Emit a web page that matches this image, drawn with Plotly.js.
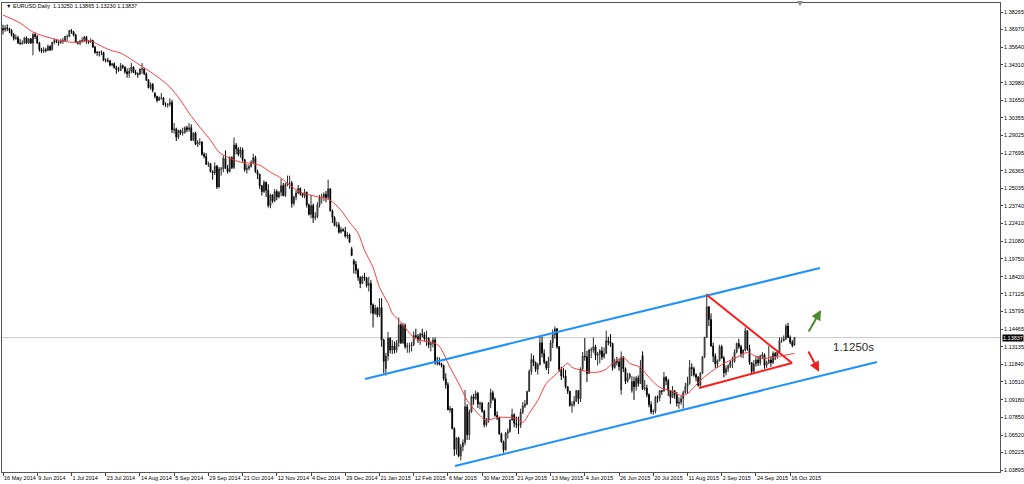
<!DOCTYPE html>
<html>
<head>
<meta charset="utf-8">
<script src="https://cdn.plot.ly/plotly-3.0.1.min.js"></script>
<style>html,body{margin:0;padding:0;background:#fff;}#chart{width:1024px;height:484px;}</style>
</head>
<body>
<div id="chart"></div>
<script>
// ---- EURUSD Daily, 16 May 2014 .. 20 Oct 2015 (one value per trading day) ----
const openP = [
1.3705,
1.3695,1.3710,1.3705,1.3690,1.3660,
1.3630,1.3635,1.3595,1.3590,1.3595,
1.3635,1.3595,1.3627,1.3595,1.3660,
1.3645,1.3595,1.3545,1.3535,1.3545,
1.3540,1.3570,1.3545,1.3600,1.3615,
1.3605,1.3600,1.3610,1.3615,1.3645,
1.3645,1.3690,1.3680,1.3655,1.3600,
1.3595,1.3610,1.3615,1.3640,1.3610,
1.3605,1.3615,1.3565,1.3525,1.3525,
1.3525,1.3525,1.3465,1.3465,1.3460,
1.3430,1.3440,1.3410,1.3395,1.3390,
1.3425,1.3415,1.3380,1.3365,1.3385,
1.3415,1.3375,1.3365,1.3360,1.3400,
1.3400,1.3365,1.3320,1.3260,1.3285,
1.3220,1.3195,1.3165,1.3185,1.3185,
1.3130,1.3130,1.3135,1.3150,1.2945,
1.2950,1.2890,1.2940,1.2920,1.2925,
1.2960,1.2945,1.2960,1.2865,1.2920,
1.2835,1.2850,1.2850,1.2760,1.2745,
1.2685,1.2690,1.2630,1.2620,1.2670,
1.2515,1.2650,1.2650,1.2730,1.2655,
1.2630,1.2735,1.2660,1.2830,1.2800,
1.2760,1.2795,1.2720,1.2645,1.2655,
1.2670,1.2700,1.2735,1.2630,1.2610,
1.2525,1.2480,1.2550,1.2490,1.2375,
1.2455,1.2410,1.2480,1.2440,1.2475,
1.2525,1.2450,1.2535,1.2545,1.2545,
1.2390,1.2440,1.2470,1.2505,1.2465,
1.2450,1.2475,1.2380,1.2310,1.2375,
1.2285,1.2290,1.2380,1.2440,1.2440,
1.2460,1.2435,1.2500,1.2335,1.2285,
1.2225,1.2230,1.2175,1.2195,
1.2185,1.2145,1.2155,1.2050,
1.1960,1.1935,1.1890,1.1835,1.1790,
1.1840,1.1830,1.1775,1.1790,1.1630,
1.1565,1.1605,1.1555,1.1610,1.1365,
1.1150,1.1245,1.1380,1.1290,1.1320,
1.1290,1.1345,1.1480,1.1345,1.1475,
1.1315,1.1320,1.1320,1.1330,1.1400,
1.1390,1.1365,1.1410,1.1405,1.1375,
1.1380,1.1330,1.1340,1.1365,1.1195,
1.1195,1.1185,1.1175,1.1075,1.1030,
1.0840,1.0850,1.0700,1.0545,1.0630,
1.0495,1.0565,1.0595,1.0865,1.0655,
1.0825,1.0940,1.0925,1.0965,1.0885,
1.0890,1.0830,1.0730,1.0765,1.0890,
1.0970,1.0920,1.0800,1.0780,1.0660,
1.0600,1.0540,1.0665,1.0680,1.0765,
1.0805,1.0740,1.0730,1.0725,1.0825,
1.0870,1.0885,1.0980,1.1130,1.1220,
1.1195,1.1145,1.1180,1.1345,1.1265,
1.1200,1.1155,1.1210,1.1345,1.1405,
1.1450,1.1315,1.1145,1.1095,1.1095,
1.1015,1.0980,1.0875,1.0880,1.0905,
1.0985,1.0925,1.1150,1.1245,1.1240,
1.1115,1.1290,1.1290,1.1315,1.1250,
1.1260,1.1285,1.1240,1.1265,1.1360,
1.1350,1.1340,1.1160,1.1205,1.1200,
1.0990,1.1235,1.1150,1.1055,1.1085,
1.0985,1.1055,1.1015,1.1080,1.1040,
1.1250,1.1000,1.1005,1.0955,1.0880,
1.0825,1.0830,1.0935,1.0930,1.0985,
1.0985,1.1085,1.1060,1.0985,1.0935,
1.0985,1.0955,1.0890,1.0900,1.0925,
1.0970,1.1015,1.1040,1.1160,1.1150,
1.1105,1.1085,1.1025,1.1115,1.1240,
1.1385,1.1615,1.1520,1.1320,1.1245,
1.1185,1.1210,1.1315,1.1230,1.1120,
1.1150,1.1170,1.1200,1.1205,1.1275,
1.1340,1.1315,1.1265,1.1290,1.1435,
1.1300,1.1195,1.1130,1.1185,1.1215,
1.1195,1.1245,1.1255,1.1175,1.1195,
1.1215,1.1195,1.1265,1.1245,1.1275,
1.1360,1.1360,1.1375,1.1470,1.1385,
1.1350,1.1325
];
const highP = [
1.3733,
1.3730,1.3735,1.3710,1.3700,1.3670,
1.3660,1.3650,1.3625,1.3615,1.3640,
1.3645,1.3630,1.3635,1.3670,1.3675,
1.3655,1.3605,1.3560,1.3565,1.3560,
1.3585,1.3580,1.3605,1.3630,1.3625,
1.3615,1.3625,1.3635,1.3650,1.3660,
1.3695,1.3700,1.3685,1.3665,1.3610,
1.3620,1.3640,1.3650,1.3650,1.3615,
1.3630,1.3620,1.3575,1.3535,1.3535,
1.3540,1.3530,1.3480,1.3485,1.3470,
1.3445,1.3450,1.3425,1.3415,1.3445,
1.3435,1.3420,1.3405,1.3410,1.3445,
1.3420,1.3395,1.3375,1.3405,1.3445,
1.3410,1.3375,1.3325,1.3300,1.3295,
1.3225,1.3200,1.3195,1.3220,1.3190,
1.3150,1.3145,1.3180,1.3170,1.2995,
1.2960,1.2945,1.2945,1.2960,1.2970,
1.2975,1.2995,1.2985,1.2925,1.2930,
1.2865,1.2880,1.2860,1.2775,1.2770,
1.2705,1.2695,1.2640,1.2700,1.2680,
1.2665,1.2665,1.2750,1.2790,1.2680,
1.2745,1.2745,1.2886,1.2845,1.2815,
1.2815,1.2810,1.2725,1.2685,1.2685,
1.2715,1.2765,1.2750,1.2645,1.2615,
1.2530,1.2565,1.2555,1.2535,1.2465,
1.2460,1.2500,1.2495,1.2485,1.2575,
1.2545,1.2545,1.2600,1.2600,1.2560,
1.2450,1.2490,1.2530,1.2510,1.2470,
1.2500,1.2480,1.2390,1.2455,1.2390,
1.2325,1.2400,1.2455,1.2465,1.2475,
1.2485,1.2570,1.2505,1.2345,1.2295,
1.2255,1.2250,1.2215,1.2205,
1.2215,1.2175,1.2165,1.2065,
1.1975,1.1960,1.1905,1.1845,1.1850,
1.1870,1.1840,1.1840,1.1815,1.1640,
1.1630,1.1615,1.1680,1.1680,1.1375,
1.1270,1.1425,1.1385,1.1365,1.1355,
1.1365,1.1534,1.1490,1.1495,1.1490,
1.1345,1.1345,1.1350,1.1430,1.1450,
1.1410,1.1420,1.1450,1.1425,1.1435,
1.1385,1.1355,1.1385,1.1385,1.1240,
1.1235,1.1195,1.1180,1.1115,1.1050,
1.0870,1.0855,1.0710,1.0635,1.0640,
1.0585,1.0620,1.0990,1.0885,1.0845,
1.0950,1.0960,1.0985,1.0975,1.0905,
1.0900,1.0840,1.0780,1.0900,1.1000,
1.0985,1.0935,1.0830,1.0790,1.0670,
1.0610,1.0675,1.0700,1.0770,1.0850,
1.0815,1.0790,1.0790,1.0850,1.0900,
1.0915,1.0985,1.1145,1.1265,1.1250,
1.1205,1.1195,1.1390,1.1390,1.1295,
1.1210,1.1240,1.1365,1.1445,1.1467,
1.1455,1.1320,1.1165,1.1155,1.1140,
1.1020,1.0985,1.0905,1.0945,1.0990,
1.0990,1.1160,1.1275,1.1380,1.1285,
1.1300,1.1310,1.1385,1.1330,1.1275,
1.1295,1.1315,1.1310,1.1435,1.1390,
1.1410,1.1345,1.1225,1.1240,1.1225,
1.1280,1.1245,1.1160,1.1120,1.1120,
1.1095,1.1090,1.1095,1.1100,1.1215,
1.1280,1.1065,1.1030,1.0965,1.0905,
1.0845,1.0945,1.0950,1.0990,1.0990,
1.1125,1.1095,1.1075,1.0990,1.1020,
1.0990,1.0975,1.0935,1.0945,1.0985,
1.1045,1.1090,1.1215,1.1190,1.1165,
1.1115,1.1095,1.1125,1.1245,1.1390,
1.1714,1.1620,1.1565,1.1345,1.1265,
1.1220,1.1330,1.1330,1.1245,1.1175,
1.1185,1.1215,1.1240,1.1295,1.1345,
1.1375,1.1330,1.1295,1.1460,1.1440,
1.1330,1.1200,1.1215,1.1245,1.1245,
1.1255,1.1275,1.1265,1.1210,1.1320,
1.1245,1.1280,1.1275,1.1290,1.1385,
1.1385,1.1400,1.1485,1.1495,1.1400,
1.1365,1.13865
];
const lowP = [
1.3660,
1.3680,1.3685,1.3670,1.3645,1.3615,
1.3620,1.3590,1.3585,1.3585,1.3590,
1.3590,1.3590,1.3590,1.3503,1.3625,
1.3590,1.3530,1.3520,1.3520,1.3525,
1.3535,1.3535,1.3540,1.3585,1.3595,
1.3575,1.3590,1.3590,1.3605,1.3610,
1.3640,1.3665,1.3645,1.3595,1.3585,
1.3580,1.3600,1.3605,1.3590,1.3590,
1.3595,1.3560,1.3515,1.3500,1.3495,
1.3505,1.3460,1.3450,1.3450,1.3420,
1.3420,1.3405,1.3365,1.3380,1.3385,
1.3400,1.3365,1.3335,1.3335,1.3370,
1.3370,1.3355,1.3335,1.3355,1.3365,
1.3355,1.3310,1.3255,1.3245,1.3225,
1.3180,1.3150,1.3160,1.3170,1.3130,
1.3115,1.3110,1.3120,1.2920,1.2915,
1.2860,1.2875,1.2905,1.2900,1.2915,
1.2925,1.2930,1.2860,1.2860,1.2830,
1.2815,1.2830,1.2750,1.2730,1.2680,
1.2665,1.2625,1.2570,1.2605,1.2500,
1.2505,1.2600,1.2625,1.2650,1.2615,
1.2625,1.2650,1.2650,1.2760,1.2745,
1.2735,1.2705,1.2630,1.2615,1.2640,
1.2660,1.2690,1.2620,1.2575,1.2500,
1.2450,1.2470,1.2440,1.2360,1.2355,
1.2395,1.2400,1.2415,1.2430,1.2445,
1.2445,1.2440,1.2520,1.2500,1.2360,
1.2375,1.2415,1.2460,1.2450,1.2435,
1.2430,1.2360,1.2300,1.2280,1.2245,
1.2265,1.2280,1.2360,1.2390,1.2410,
1.2400,1.2425,1.2330,1.2245,1.2220,
1.2210,1.2165,1.2165,1.2180,
1.2135,1.2125,1.2095,1.1995,
1.1865,1.1860,1.1810,1.1755,1.1785,
1.1810,1.1760,1.1730,1.1565,1.1460,
1.1555,1.1535,1.1540,1.1315,1.1115,
1.1098,1.1210,1.1265,1.1260,1.1265,
1.1270,1.1315,1.1335,1.1335,1.1300,
1.1270,1.1270,1.1280,1.1320,1.1375,
1.1345,1.1330,1.1385,1.1355,1.1320,
1.1305,1.1280,1.1310,1.1180,1.1175,
1.1175,1.1160,1.1060,1.1000,1.0840,
1.0820,1.0695,1.0495,1.0505,1.0485,
1.0462,1.0530,1.0575,1.0615,1.0615,
1.0820,1.0880,1.0915,1.0855,1.0845,
1.0820,1.0710,1.0715,1.0745,1.0855,
1.0910,1.0790,1.0765,1.0655,1.0595,
1.0520,1.0535,1.0625,1.0670,1.0760,
1.0710,1.0705,1.0660,1.0705,1.0810,
1.0855,1.0875,1.0975,1.1105,1.1170,
1.1125,1.1105,1.1175,1.1235,1.1185,
1.1140,1.1110,1.1205,1.1305,1.1375,
1.1300,1.1125,1.1065,1.1080,1.1000,
1.0960,1.0865,1.0820,1.0865,1.0900,
1.0885,1.0900,1.1130,1.1210,1.1050,
1.1110,1.1230,1.1270,1.1215,1.1175,
1.1190,1.1215,1.1225,1.1260,1.1325,
1.1315,1.1135,1.1150,1.1175,1.1135,
1.0955,1.1125,1.1035,1.1045,1.1070,
1.0970,1.0915,1.0985,1.1015,1.1035,
1.0990,1.0985,1.0935,1.0860,1.0810,
1.0805,1.0815,1.0895,1.0905,1.0955,
1.0975,1.1025,1.0945,1.0885,1.0930,
1.0925,1.0865,1.0850,1.0880,1.0850,
1.0965,1.0960,1.1030,1.1095,1.1090,
1.1055,1.1015,1.1015,1.1110,1.1230,
1.1380,1.1470,1.1315,1.1200,1.1155,
1.1155,1.1205,1.1225,1.1085,1.1100,
1.1125,1.1155,1.1155,1.1195,1.1265,
1.1300,1.1235,1.1230,1.1280,1.1285,
1.1180,1.1105,1.1120,1.1165,1.1170,
1.1175,1.1225,1.1150,1.1155,1.1185,
1.1165,1.1185,1.1215,1.1225,1.1270,
1.1345,1.1355,1.1365,1.1380,1.1335,
1.1310,1.1323
];
const closeP = [
1.3695,
1.3710,1.3705,1.3690,1.3660,1.3630,
1.3635,1.3595,1.3590,1.3595,1.3635,
1.3595,1.3627,1.3595,1.3660,1.3645,
1.3595,1.3545,1.3535,1.3545,1.3540,
1.3570,1.3545,1.3600,1.3615,1.3605,
1.3600,1.3610,1.3615,1.3645,1.3645,
1.3690,1.3680,1.3655,1.3600,1.3595,
1.3610,1.3615,1.3640,1.3610,1.3605,
1.3615,1.3565,1.3525,1.3525,1.3525,
1.3525,1.3465,1.3465,1.3460,1.3430,
1.3440,1.3410,1.3395,1.3390,1.3425,
1.3415,1.3380,1.3365,1.3385,1.3415,
1.3375,1.3365,1.3360,1.3400,1.3400,
1.3365,1.3320,1.3260,1.3285,1.3240,
1.3195,1.3165,1.3185,1.3185,1.3130,
1.3130,1.3135,1.3150,1.2945,1.2950,
1.2890,1.2940,1.2920,1.2925,1.2960,
1.2945,1.2960,1.2865,1.2920,1.2835,
1.2850,1.2850,1.2760,1.2745,1.2685,
1.2690,1.2630,1.2620,1.2670,1.2515,
1.2650,1.2650,1.2730,1.2655,1.2630,
1.2735,1.2660,1.2830,1.2800,1.2760,
1.2795,1.2720,1.2645,1.2655,1.2670,
1.2700,1.2735,1.2630,1.2610,1.2525,
1.2480,1.2550,1.2490,1.2375,1.2455,
1.2410,1.2480,1.2440,1.2475,1.2525,
1.2450,1.2535,1.2545,1.2545,1.2390,
1.2440,1.2470,1.2505,1.2465,1.2450,
1.2475,1.2380,1.2310,1.2375,1.2285,
1.2290,1.2380,1.2440,1.2440,1.2460,
1.2435,1.2500,1.2335,1.2285,1.2225,
1.2230,1.2175,1.2195,1.2185,
1.2145,1.2155,1.2100,1.2000,
1.1935,1.1890,1.1835,1.1790,1.1840,
1.1830,1.1775,1.1790,1.1630,1.1565,
1.1605,1.1555,1.1610,1.1365,1.1205,
1.1245,1.1380,1.1290,1.1320,1.1290,
1.1345,1.1480,1.1345,1.1475,1.1315,
1.1320,1.1320,1.1330,1.1400,1.1390,
1.1365,1.1410,1.1405,1.1375,1.1380,
1.1330,1.1340,1.1365,1.1195,1.1195,
1.1185,1.1175,1.1075,1.1030,1.0840,
1.0850,1.0700,1.0545,1.0630,1.0495,
1.0565,1.0595,1.0865,1.0655,1.0825,
1.0940,1.0925,1.0965,1.0885,1.0890,
1.0830,1.0730,1.0765,1.0890,1.0970,
1.0920,1.0800,1.0780,1.0660,1.0600,
1.0540,1.0665,1.0680,1.0765,1.0805,
1.0740,1.0730,1.0725,1.0825,1.0870,
1.0885,1.0980,1.1130,1.1220,1.1195,
1.1145,1.1180,1.1345,1.1265,1.1200,
1.1155,1.1210,1.1345,1.1405,1.1450,
1.1315,1.1145,1.1095,1.1095,1.1015,
1.0980,1.0875,1.0880,1.0905,1.0985,
1.0925,1.1150,1.1245,1.1240,1.1115,
1.1290,1.1290,1.1315,1.1250,1.1260,
1.1285,1.1240,1.1265,1.1360,1.1350,
1.1340,1.1160,1.1205,1.1200,1.1165,
1.1235,1.1150,1.1055,1.1085,1.1110,
1.1055,1.1015,1.1080,1.1040,1.1160,
1.1000,1.1005,1.0955,1.0880,1.0825,
1.0830,1.0935,1.0930,1.0985,1.0980,
1.1085,1.1060,1.0985,1.0935,1.0985,
1.0955,1.0890,1.0900,1.0925,1.0970,
1.1015,1.1040,1.1160,1.1150,1.1105,
1.1085,1.1025,1.1115,1.1240,1.1385,
1.1615,1.1520,1.1320,1.1245,1.1185,
1.1210,1.1315,1.1230,1.1120,1.1150,
1.1170,1.1200,1.1205,1.1275,1.1340,
1.1315,1.1265,1.1290,1.1435,1.1300,
1.1195,1.1130,1.1185,1.1215,1.1195,
1.1245,1.1255,1.1175,1.1195,1.1215,
1.1195,1.1265,1.1245,1.1275,1.1360,
1.1360,1.1375,1.1470,1.1385,1.1350,
1.1325,1.13837
];

// Moving average (red): bar index -> value
const maIdx = [0,8,14,22,31,36,41,45,50,55,59,64,69,73,78,83,87,92,97,101,106,111,115,120,125,130,134,139,144,148,153,158,162,166,169,173,176,180,182,186,189,192,195,201,204,209,214,217,222,226,231,236,240,243,246,250,254,259,264,266,271,276,281,285,290,293,298,302,307,312,317,320,323,326,330,334,338,343,348,351,355,360,365,370];
const maVal = [1.3806,1.3746,1.3678,1.3634,1.3603,1.3603,1.3611,1.3580,1.3543,1.3520,1.3483,1.3430,1.3378,1.3333,1.3265,1.3167,1.3069,1.2964,1.2867,1.2776,1.2731,1.2701,1.2694,1.2679,1.2626,1.2581,1.2528,1.2476,1.2453,1.2438,1.2415,1.2340,1.2250,1.2168,1.2040,1.1912,1.1761,1.1641,1.1566,1.1498,1.1438,1.1385,1.1363,1.1348,1.1318,1.1160,1.1010,1.0912,1.0815,1.0761,1.0784,1.0784,1.0776,1.0746,1.0815,1.0912,1.1040,1.1115,1.1190,1.1160,1.1137,1.1122,1.1137,1.1190,1.1235,1.1190,1.1160,1.1085,1.1010,1.0987,1.0949,1.0964,1.1010,1.1062,1.1115,1.1160,1.1198,1.1235,1.1273,1.1250,1.1228,1.1235,1.1250,1.1265];

// Axis labels
const dateTickIdx = [0,16,32,48,64,80,96,112,128,144,160,176,192,208,224,240,256,272,288,304,320,336,352,368];
const dateLabels = ['16 May 2014','9 Jun 2014','1 Jul 2014','23 Jul 2014','14 Aug 2014','5 Sep 2014','29 Sep 2014','21 Oct 2014','12 Nov 2014','4 Dec 2014','29 Dec 2014','21 Jan 2015','12 Feb 2015','6 Mar 2015','30 Mar 2015','21 Apr 2015','13 May 2015','4 Jun 2015','26 Jun 2015','20 Jul 2015','11 Aug 2015','2 Sep 2015','24 Sep 2015','16 Oct 2015'];
const priceLabels = ['1.38265','1.36970','1.35640','1.34310','1.32980','1.31650','1.30355','1.29025','1.27695','1.26365','1.25035','1.23740','1.22410','1.21080','1.19750','1.18420','1.17125','1.15795','1.14465','1.13135','1.11840','1.10510','1.09180','1.07850','1.06520','1.05225','1.03895'];
const priceTicks = priceLabels.map(Number);

// Hand-drawn objects: [barIndex, price]
const channelUpper = [[169.2, 1.10729], [381.9, 1.19064]];
const channelLower = [[211.3, 1.04196], [408.6, 1.12005]];
const triTop = [329.1, 1.17036], triApex = [368.9, 1.11931], triLow = [325.4, 1.10054];
const upArrow = {from: [376.3, 1.14183], to: [382.4, 1.15910]};
const downArrow = {from: [376.2, 1.12906], to: [381.5, 1.11278]};
const levelText = '1.1250s', levelPos = [397.4, 1.13131];
const lastPrice = 1.13837;
const headerText = '\u25BC EURUSD,Daily  1.13250 1.13865 1.13230 1.13837';

const FONT = 'Liberation Sans, Arial, sans-serif';
const barX = closeP.map((_, i) => i);

const traces = [
  {
    type: 'candlestick', x: barX, open: openP, high: highP, low: lowP, close: closeP,
    increasing: {line: {color: '#2a2a2a', width: 1}, fillcolor: '#b0b0b0'},
    decreasing: {line: {color: '#000000', width: 1}, fillcolor: '#000000'},
    whiskerwidth: 0, hoverinfo: 'skip'
  },
  {
    type: 'scatter', mode: 'lines', x: maIdx, y: maVal,
    line: {color: '#ff3b3b', width: 1, shape: 'spline', smoothing: 0.8}, hoverinfo: 'skip'
  }
];

function seg(a, b, color, w) {
  return {type: 'line', xref: 'x', yref: 'y', x0: a[0], y0: a[1], x1: b[0], y1: b[1],
          line: {color: color, width: w}};
}

const shapes = [
  {type: 'line', xref: 'paper', yref: 'y', x0: 0, x1: 1, y0: lastPrice, y1: lastPrice,
   line: {color: '#c8c8c8', width: 1}, layer: 'below'},
  seg(channelUpper[0], channelUpper[1], '#1e90ff', 2),
  seg(channelLower[0], channelLower[1], '#1e90ff', 2),
  seg(triTop, triApex, '#ff1a1a', 2),
  seg(triLow, triApex, '#ff1a1a', 2),
  {type: 'path', xref: 'paper', yref: 'paper', path: 'M 0.7966 1.0045 L 0.8026 1.0045 L 0.7996 0.9930 Z',
   fillcolor: '#909090', line: {width: 0}}
];

const annotations = [
  {xref: 'paper', yref: 'paper', x: 0.002, y: 0.9936, xanchor: 'left', yanchor: 'middle',
   text: headerText, showarrow: false, font: {family: FONT, size: 5.5, color: '#000'}},
  {xref: 'x', yref: 'y', x: upArrow.to[0], y: upArrow.to[1], axref: 'x', ayref: 'y',
   ax: upArrow.from[0], ay: upArrow.from[1], text: '', showarrow: true,
   arrowhead: 2, arrowsize: 1, arrowwidth: 2, arrowcolor: '#4b8a2b'},
  {xref: 'x', yref: 'y', x: downArrow.to[0], y: downArrow.to[1], axref: 'x', ayref: 'y',
   ax: downArrow.from[0], ay: downArrow.from[1], text: '', showarrow: true,
   arrowhead: 2, arrowsize: 1, arrowwidth: 2, arrowcolor: '#ee2020'},
  {xref: 'x', yref: 'y', x: levelPos[0], y: levelPos[1], text: levelText, showarrow: false,
   font: {family: FONT, size: 11.5, color: '#2b2b2b'}},
  {xref: 'paper', yref: 'y', x: 1, y: lastPrice, xanchor: 'left', yanchor: 'middle', xshift: 2,
   text: lastPrice.toFixed(5), showarrow: false, bgcolor: '#000', borderpad: 0,
   font: {family: FONT, size: 5.5, color: '#fff'}}
];

const layout = {
  width: 1024, height: 484,
  margin: {l: 2, r: 24, t: 3, b: 12, pad: 0},
  paper_bgcolor: '#ffffff', plot_bgcolor: '#ffffff',
  showlegend: false,
  boxgap: 0.45,
  xaxis: {
    type: 'linear', range: [-0.47, 466.1], showgrid: false, zeroline: false,
    tickmode: 'array', tickvals: dateTickIdx, ticktext: dateLabels,
    ticks: 'outside', ticklen: 3, tickcolor: '#444', ticklabelposition: 'outside right',
    tickangle: 0, autotickangles: [0],
    tickfont: {family: FONT, size: 5.5, color: '#000'},
    showline: true, linecolor: '#555', linewidth: 1, mirror: true,
    rangeslider: {visible: false}, fixedrange: true
  },
  yaxis: {
    side: 'right', range: [1.03745, 1.38963], showgrid: false, zeroline: false,
    tickmode: 'array', tickvals: priceTicks, ticktext: priceLabels,
    ticks: 'outside', ticklen: 2, tickcolor: '#444',
    tickfont: {family: FONT, size: 5.5, color: '#000'},
    showline: true, linecolor: '#555', linewidth: 1, mirror: true, fixedrange: true
  },
  shapes: shapes,
  annotations: annotations
};

Plotly.newPlot('chart', traces, layout, {displayModeBar: false, staticPlot: true});
</script>
</body>
</html>
